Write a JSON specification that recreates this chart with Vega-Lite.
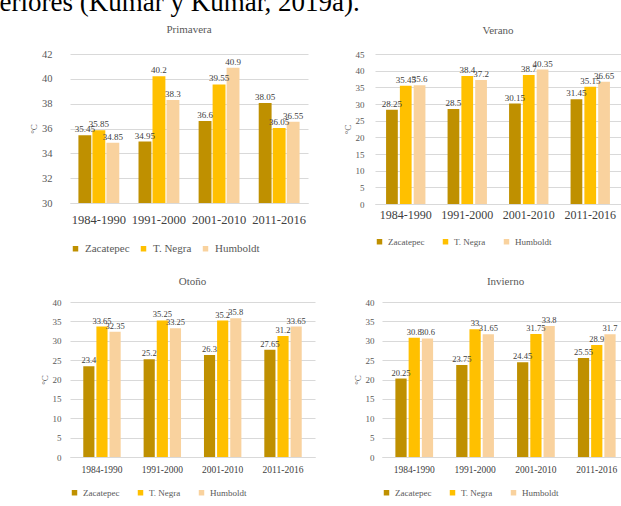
{
  "$schema": "https://vega.github.io/schema/vega-lite/v6.json",
  "autosize": {"type": "pad"},
  "padding": {"top": -11, "left": -1, "right": 0, "bottom": 0},
  "background": "white",
  "title": {"text": "eriores (Kumar y Kumar, 2019a).", "anchor": "start", "frame": "bounds", "font": "Liberation Serif", "fontSize": 27, "fontWeight": "normal", "color": "#000000", "offset": 7, "dx": -30},
  "datasets": {
    "temps": [
      {"season": "Primavera", "period": "1984-1990", "station": "Zacatepec", "value": 35.45},
      {"season": "Primavera", "period": "1984-1990", "station": "T. Negra", "value": 35.85},
      {"season": "Primavera", "period": "1984-1990", "station": "Humboldt", "value": 34.85},
      {"season": "Primavera", "period": "1991-2000", "station": "Zacatepec", "value": 34.95},
      {"season": "Primavera", "period": "1991-2000", "station": "T. Negra", "value": 40.2},
      {"season": "Primavera", "period": "1991-2000", "station": "Humboldt", "value": 38.3},
      {"season": "Primavera", "period": "2001-2010", "station": "Zacatepec", "value": 36.6},
      {"season": "Primavera", "period": "2001-2010", "station": "T. Negra", "value": 39.55},
      {"season": "Primavera", "period": "2001-2010", "station": "Humboldt", "value": 40.9},
      {"season": "Primavera", "period": "2011-2016", "station": "Zacatepec", "value": 38.05},
      {"season": "Primavera", "period": "2011-2016", "station": "T. Negra", "value": 36.05},
      {"season": "Primavera", "period": "2011-2016", "station": "Humboldt", "value": 36.55},
      {"season": "Verano", "period": "1984-1990", "station": "Zacatepec", "value": 28.25},
      {"season": "Verano", "period": "1984-1990", "station": "T. Negra", "value": 35.45},
      {"season": "Verano", "period": "1984-1990", "station": "Humboldt", "value": 35.6},
      {"season": "Verano", "period": "1991-2000", "station": "Zacatepec", "value": 28.5},
      {"season": "Verano", "period": "1991-2000", "station": "T. Negra", "value": 38.4},
      {"season": "Verano", "period": "1991-2000", "station": "Humboldt", "value": 37.2},
      {"season": "Verano", "period": "2001-2010", "station": "Zacatepec", "value": 30.15},
      {"season": "Verano", "period": "2001-2010", "station": "T. Negra", "value": 38.7},
      {"season": "Verano", "period": "2001-2010", "station": "Humboldt", "value": 40.35},
      {"season": "Verano", "period": "2011-2016", "station": "Zacatepec", "value": 31.45},
      {"season": "Verano", "period": "2011-2016", "station": "T. Negra", "value": 35.15},
      {"season": "Verano", "period": "2011-2016", "station": "Humboldt", "value": 36.65},
      {"season": "Otoño", "period": "1984-1990", "station": "Zacatepec", "value": 23.4},
      {"season": "Otoño", "period": "1984-1990", "station": "T. Negra", "value": 33.65},
      {"season": "Otoño", "period": "1984-1990", "station": "Humboldt", "value": 32.35},
      {"season": "Otoño", "period": "1991-2000", "station": "Zacatepec", "value": 25.2},
      {"season": "Otoño", "period": "1991-2000", "station": "T. Negra", "value": 35.25},
      {"season": "Otoño", "period": "1991-2000", "station": "Humboldt", "value": 33.25},
      {"season": "Otoño", "period": "2001-2010", "station": "Zacatepec", "value": 26.3},
      {"season": "Otoño", "period": "2001-2010", "station": "T. Negra", "value": 35.2},
      {"season": "Otoño", "period": "2001-2010", "station": "Humboldt", "value": 35.8},
      {"season": "Otoño", "period": "2011-2016", "station": "Zacatepec", "value": 27.65},
      {"season": "Otoño", "period": "2011-2016", "station": "T. Negra", "value": 31.2},
      {"season": "Otoño", "period": "2011-2016", "station": "Humboldt", "value": 33.65},
      {"season": "Invierno", "period": "1984-1990", "station": "Zacatepec", "value": 20.25},
      {"season": "Invierno", "period": "1984-1990", "station": "T. Negra", "value": 30.8},
      {"season": "Invierno", "period": "1984-1990", "station": "Humboldt", "value": 30.6},
      {"season": "Invierno", "period": "1991-2000", "station": "Zacatepec", "value": 23.75},
      {"season": "Invierno", "period": "1991-2000", "station": "T. Negra", "value": 33},
      {"season": "Invierno", "period": "1991-2000", "station": "Humboldt", "value": 31.65},
      {"season": "Invierno", "period": "2001-2010", "station": "Zacatepec", "value": 24.45},
      {"season": "Invierno", "period": "2001-2010", "station": "T. Negra", "value": 31.75},
      {"season": "Invierno", "period": "2001-2010", "station": "Humboldt", "value": 33.8},
      {"season": "Invierno", "period": "2011-2016", "station": "Zacatepec", "value": 25.55},
      {"season": "Invierno", "period": "2011-2016", "station": "T. Negra", "value": 28.9},
      {"season": "Invierno", "period": "2011-2016", "station": "Humboldt", "value": 31.7}
    ]
  },
  "resolve": {"scale": {"x": "independent", "y": "independent", "xOffset": "independent", "color": "independent"}},
  "spacing": 22,
  "vconcat": [
    {
      "hconcat": [
        {
          "title": {"text": "Primavera"},
          "width": 238, "height": 149,
          "data": {"name": "temps"},
          "transform": [{"filter": "datum.season === 'Primavera'"}],
          "encoding": {
            "x": {"field": "period", "type": "nominal", "sort": ["1984-1990", "1991-2000", "2001-2010", "2011-2016"], "scale": {"paddingInner": 0.32, "paddingOuter": 0.14}, "axis": {"labelFontSize": 12.5, "labelPadding": 10, "labelColor": "#404040", "labelOverlap": false}},
            "xOffset": {"field": "station", "type": "nominal", "sort": ["Zacatepec", "T. Negra", "Humboldt"], "scale": {"paddingInner": 0.08}},
            "y": {"field": "value", "type": "quantitative", "scale": {"domain": [30, 42], "nice": false, "zero": false}, "axis": {"title": "°C", "values": [30, 32, 34, 36, 38, 40, 42], "labelFontSize": 10.5, "labelPadding": 18}}
          },
          "layer": [
            {"mark": {"type": "bar", "clip": true}, "encoding": {"color": {"field": "station", "type": "nominal", "sort": ["Zacatepec", "T. Negra", "Humboldt"], "scale": {"domain": ["Zacatepec", "T. Negra", "Humboldt"], "range": ["#BF9000", "#FFC000", "#F9D29E"]}, "legend": {"labelFontSize": 11, "offset": 17, "columnPadding": 8}}}},
            {"mark": {"type": "text", "dy": -6, "fontSize": 9, "color": "#404040"}, "encoding": {"text": {"field": "value", "type": "quantitative", "format": "~g"}}}
          ]
        },
        {
          "title": {"text": "Verano"},
          "width": 246, "height": 150,
          "data": {"name": "temps"},
          "transform": [{"filter": "datum.season === 'Verano'"}],
          "encoding": {
            "x": {"field": "period", "type": "nominal", "sort": ["1984-1990", "1991-2000", "2001-2010", "2011-2016"], "scale": {"paddingInner": 0.36, "paddingOuter": 0.18}, "axis": {"labelFontSize": 12, "labelPadding": 5, "labelColor": "#404040", "labelOverlap": false}},
            "xOffset": {"field": "station", "type": "nominal", "sort": ["Zacatepec", "T. Negra", "Humboldt"], "scale": {"paddingInner": 0.15}},
            "y": {"field": "value", "type": "quantitative", "scale": {"domain": [0, 45], "nice": false}, "axis": {"title": "°C", "values": [0, 5, 10, 15, 20, 25, 30, 35, 40, 45], "labelFontSize": 9, "labelPadding": 11}}
          },
          "layer": [
            {"mark": {"type": "bar"}, "encoding": {"color": {"field": "station", "type": "nominal", "sort": ["Zacatepec", "T. Negra", "Humboldt"], "scale": {"domain": ["Zacatepec", "T. Negra", "Humboldt"], "range": ["#BF9000", "#FFC000", "#F9D29E"]}, "legend": {"labelFontSize": 9, "offset": 17}}}},
            {"mark": {"type": "text", "dy": -6, "fontSize": 9, "color": "#404040"}, "encoding": {"text": {"field": "value", "type": "quantitative", "format": "~g"}}}
          ]
        }
      ],
      "spacing": 35,
      "resolve": {"scale": {"x": "independent", "y": "independent", "xOffset": "independent", "color": "independent"}}
    },
    {
      "hconcat": [
        {
          "title": {"text": "Otoño", "offset": 11},
          "width": 245, "height": 155,
          "data": {"name": "temps"},
          "transform": [{"filter": "datum.season === 'Otoño'"}],
          "encoding": {
            "x": {"field": "period", "type": "nominal", "sort": ["1984-1990", "1991-2000", "2001-2010", "2011-2016"], "scale": {"paddingInner": 0.38, "paddingOuter": 0.22}, "axis": {"labelFontSize": 9.5, "labelPadding": 7, "labelColor": "#404040"}},
            "xOffset": {"field": "station", "type": "nominal", "sort": ["Zacatepec", "T. Negra", "Humboldt"], "scale": {"paddingInner": 0.15}},
            "y": {"field": "value", "type": "quantitative", "scale": {"domain": [0, 40], "nice": false}, "axis": {"title": "°C", "values": [0, 5, 10, 15, 20, 25, 30, 35, 40], "labelFontSize": 9, "labelPadding": 9}}
          },
          "layer": [
            {"mark": {"type": "bar"}, "encoding": {"color": {"field": "station", "type": "nominal", "sort": ["Zacatepec", "T. Negra", "Humboldt"], "scale": {"domain": ["Zacatepec", "T. Negra", "Humboldt"], "range": ["#BF9000", "#FFC000", "#F9D29E"]}, "legend": {"labelFontSize": 9, "offset": 14}}}},
            {"mark": {"type": "text", "dy": -6, "fontSize": 8.5, "color": "#404040"}, "encoding": {"text": {"field": "value", "type": "quantitative", "format": "~g"}}}
          ]
        },
        {
          "title": {"text": "Invierno", "offset": 11},
          "width": 247, "height": 155,
          "data": {"name": "temps"},
          "transform": [{"filter": "datum.season === 'Invierno'"}],
          "encoding": {
            "x": {"field": "period", "type": "nominal", "sort": ["1984-1990", "1991-2000", "2001-2010", "2011-2016"], "scale": {"paddingInner": 0.38, "paddingOuter": 0.22}, "axis": {"labelFontSize": 9.5, "labelPadding": 7, "labelColor": "#404040"}},
            "xOffset": {"field": "station", "type": "nominal", "sort": ["Zacatepec", "T. Negra", "Humboldt"], "scale": {"paddingInner": 0.15}},
            "y": {"field": "value", "type": "quantitative", "scale": {"domain": [0, 40], "nice": false}, "axis": {"title": "°C", "values": [0, 5, 10, 15, 20, 25, 30, 35, 40], "labelFontSize": 9, "labelPadding": 8}}
          },
          "layer": [
            {"mark": {"type": "bar"}, "encoding": {"color": {"field": "station", "type": "nominal", "sort": ["Zacatepec", "T. Negra", "Humboldt"], "scale": {"domain": ["Zacatepec", "T. Negra", "Humboldt"], "range": ["#BF9000", "#FFC000", "#F9D29E"]}, "legend": {"labelFontSize": 9, "offset": 14}}}},
            {"mark": {"type": "text", "dy": -6, "fontSize": 8.5, "color": "#404040"}, "encoding": {"text": {"field": "value", "type": "quantitative", "format": "~g"}}}
          ]
        }
      ],
      "spacing": 38,
      "resolve": {"scale": {"x": "independent", "y": "independent", "xOffset": "independent", "color": "independent"}}
    }
  ],
  "config": {
    "font": "Liberation Serif",
    "view": {"stroke": null},
    "title": {"font": "Liberation Serif", "fontSize": 11, "fontWeight": "normal", "color": "#595959", "offset": 14},
    "axis": {"labelFont": "Liberation Serif", "labelColor": "#595959", "titleFont": "Liberation Serif", "titleColor": "#595959", "titleFontWeight": "normal", "titleFontSize": 9, "titlePadding": 3, "ticks": false, "gridColor": "#d9d9d9", "domainColor": "#d9d9d9"},
    "axisY": {"domain": false},
    "axisX": {"grid": false, "labelAngle": 0, "title": null},
    "legend": {"orient": "bottom", "direction": "horizontal", "title": null, "symbolType": "square", "symbolSize": 30, "labelFont": "Liberation Serif", "labelColor": "#595959", "columnPadding": 16, "symbolStrokeWidth": 0}
  }
}
